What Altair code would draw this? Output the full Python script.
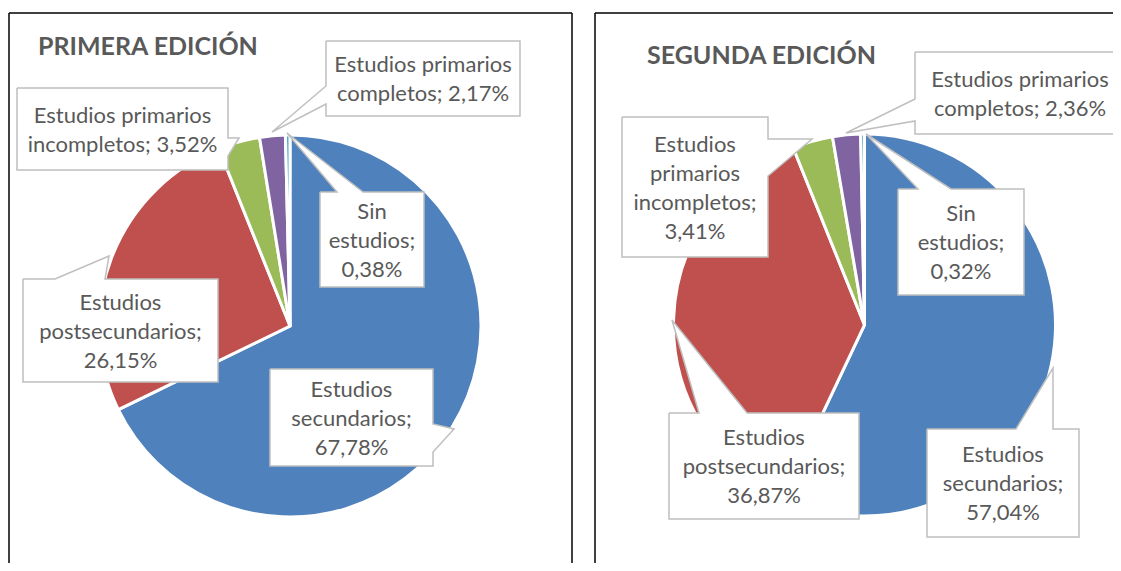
import altair as alt
import pandas as pd

# ---------------- data ----------------
categories = ["Estudios secundarios", "Estudios postsecundarios",
              "Estudios primarios incompletos", "Estudios primarios completos",
              "Sin estudios"]
primera = [67.78, 26.15, 3.52, 2.17, 0.38]
segunda = [57.04, 36.87, 3.41, 2.36, 0.32]
editions = ["PRIMERA EDICIÓN", "SEGUNDA EDICIÓN"]
colors = ["#4F81BD", "#C0504D", "#9BBB59", "#8064A2", "#4BACC6"]

# ---------------- layout (page pixel coordinates) ----------------
W, H = 1105, 555
OX, OY = 8, 8
R = 191
pie_center = {editions[0]: (290, 326), editions[1]: (864.5, 325)}
title_pos = {editions[0]: (38, 47), editions[1]: (647, 56)}
FONT = "Lato"
TXT = "#595959"

# callouts: box (x0,y0,x1,y1), pointer side, base (a,b), tip (x,y), words per line
callouts = {
    editions[0]: [
        ((270, 369, 433, 466), "right", (424, 452), (454, 429), [1, 1, 1]),
        ((23, 279, 218, 382), "top", (55, 105), (109, 256), [1, 1, 1]),
        ((17, 88, 228, 170), "right", (138, 156), (239, 138), [2, 2]),
        ((326, 41, 520, 116), "left", (86, 104), (272, 132), [2, 2]),
        ((320, 192, 424, 287), "top", (337, 363), (287, 133), [1, 1, 1]),
    ],
    editions[1]: [
        ((927, 429, 1079, 537), "top", (1016, 1053), (1053, 368), [1, 1, 1]),
        ((669, 413, 859, 519), "top", (699, 747), (672, 320), [1, 1, 1]),
        ((622, 117, 768, 257), "right", (139, 176), (812, 139), [1, 1, 1, 1]),
        ((915, 52, 1125, 134), "left", (99, 121), (846, 133), [2, 2]),
        ((898, 189, 1024, 295), "top", (918, 951), (866, 134), [1, 1, 1]),
    ],
}
LINE_H = 29

# ---------------- build tables ----------------
pie_rows = []
for ed, vals in zip(editions, [primera, segunda]):
    for i, (c, v) in enumerate(zip(categories, vals)):
        pie_rows.append({"edition": ed, "cat": c, "value": v, "idx": i})
pie_df = pd.DataFrame(pie_rows)

poly_rows, text_rows = [], []
for ed, vals in zip(editions, [primera, segunda]):
    for i, (c, v) in enumerate(zip(categories, vals)):
        (x0, y0, x1, y1), side, (a, b), (tx, ty), wpl = callouts[ed][i]
        if side == "top":
            pts = [(x0, y0), (a, y0), (tx, ty), (b, y0), (x1, y0), (x1, y1), (x0, y1)]
        elif side == "right":
            pts = [(x0, y0), (x1, y0), (x1, a), (tx, ty), (x1, b), (x1, y1), (x0, y1)]
        else:
            pts = [(x0, y0), (x1, y0), (x1, y1), (x0, y1), (x0, b), (tx, ty), (x0, a)]
        pts.append(pts[0])
        cid = f"{ed}-{i}"
        for k, (px, py) in enumerate(pts):
            poly_rows.append({"cid": cid, "k": k, "px": px, "py": py})
        label = f"{c}; " + f"{v:.2f}".replace(".", ",") + "%"
        words = label.split(" ")
        lines, p = [], 0
        for n in wpl:
            lines.append(" ".join(words[p:p + n]))
            p += n
        if p < len(words):
            lines[-1] += " " + " ".join(words[p:])
        cx, cy = (x0 + x1) / 2, (y0 + y1) / 2 + 1
        nl = len(lines)
        for j, ln in enumerate(lines):
            text_rows.append({"t": ln, "tx": cx, "ty": cy + (j - (nl - 1) / 2) * LINE_H})
poly_df = pd.DataFrame(poly_rows)
text_df = pd.DataFrame(text_rows)

title_df = pd.DataFrame([{"t": ed, "tx": title_pos[ed][0], "ty": title_pos[ed][1]} for ed in editions])

border_df = pd.DataFrame([
    {"x": 9, "y": 13, "x2": 9, "y2": 563},
    {"x": 9, "y": 13, "x2": 572, "y2": 13},
    {"x": 572, "y": 13, "x2": 572, "y2": 563},
    {"x": 595, "y": 13, "x2": 595, "y2": 563},
    {"x": 595, "y": 13, "x2": 1113, "y2": 13},
])

xs = alt.Scale(domain=[OX, OX + W], nice=False, zero=False)
ys = alt.Scale(domain=[OY + H, OY], nice=False, zero=False)

borders = alt.Chart(border_df).mark_rule(color="#000000", strokeWidth=1.5).encode(
    x=alt.X("x:Q", scale=xs, axis=None), y=alt.Y("y:Q", scale=ys, axis=None),
    x2="x2:Q", y2="y2:Q")

pie_layers = []
for ed in editions:
    cx, cy = pie_center[ed]
    pie_layers.append(
        alt.Chart(pie_df).transform_filter(alt.datum.edition == ed)
        .mark_arc(radius=R, stroke="white", strokeWidth=3)
        .encode(
            theta=alt.Theta("value:Q", stack=True),
            color=alt.Color("cat:N", scale=alt.Scale(domain=categories, range=colors), legend=None),
            order=alt.Order("idx:Q"),
            x=alt.value(cx - OX), y=alt.value(cy - OY),
        )
    )

polys = alt.Chart(poly_df).mark_line(fill="white", stroke="#BFBFBF", strokeWidth=1.5,
                                     interpolate="linear", strokeJoin="miter").encode(
    x=alt.X("px:Q", scale=xs, axis=None), y=alt.Y("py:Q", scale=ys, axis=None),
    detail="cid:N", order="k:Q")

texts = alt.Chart(text_df).mark_text(font=FONT, fontSize=22, color=TXT, align="center",
                                     baseline="middle").encode(
    x=alt.X("tx:Q", scale=xs, axis=None), y=alt.Y("ty:Q", scale=ys, axis=None), text="t:N")

titles = alt.Chart(title_df).mark_text(font=FONT, fontSize=25, fontWeight="bold", color=TXT,
                                       align="left", baseline="middle").encode(
    x=alt.X("tx:Q", scale=xs, axis=None), y=alt.Y("ty:Q", scale=ys, axis=None), text="t:N")

chart = alt.layer(borders, *pie_layers, polys, texts, titles).resolve_scale(
    theta="independent"
).properties(
    width=W, height=H, padding=0, autosize=alt.AutoSizeParams(type="none"),
    background="white"
).configure_view(stroke=None)

chart.save("out.html", embed_options={"renderer": "svg", "actions": False})
